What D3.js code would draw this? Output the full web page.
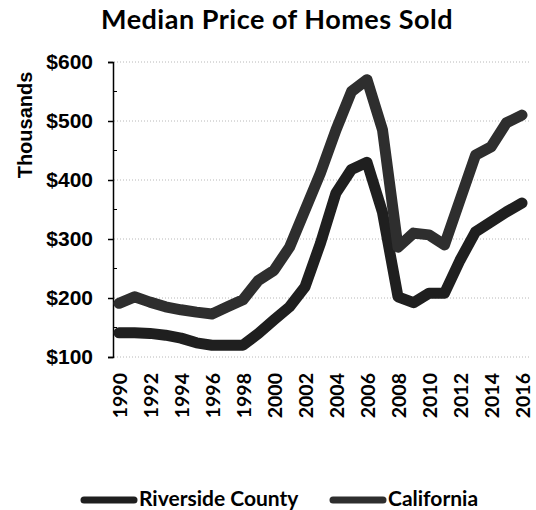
<!DOCTYPE html>
<html>
<head>
<meta charset="utf-8">
<script src="https://cdn.jsdelivr.net/npm/d3@7"></script>
<style>
  body { margin: 0; background: #fff; }
</style>
</head>
<body>
<div id="chart"></div>
<script>
const years = d3.range(1990, 2017);
const riverside = [141, 141, 140, 137, 132, 124, 120, 120, 120, 140, 163, 185, 219, 293, 378, 418, 430, 345, 202, 192, 208, 208, 264, 312, 329, 346, 361];
const california = [191, 202, 193, 185, 180, 176, 173, 185, 197, 230, 247, 286, 349, 412, 485, 550, 570, 485, 286, 310, 307, 290, 366, 442, 456, 497, 510];
const yTicks = [100, 200, 300, 400, 500, 600];
const xTicks = d3.range(1990, 2017, 2);

const series = [
  {name: "Riverside County", values: riverside, color: "#1f1f1f"},
  {name: "California", values: california, color: "#2e2e2e"}
];

const width = 536, height = 510;
const svg = d3.select("#chart").append("svg")
  .attr("width", width)
  .attr("height", height);

const x = d3.scaleLinear().domain([1990, 2016]).range([119, 522]);
const y = d3.scaleLinear().domain([100, 600]).range([357, 62]);

// title
svg.append("text")
  .attr("x", 277)
  .attr("y", 29)
  .attr("text-anchor", "middle")
  .style("font-family", "Lato")
  .style("font-weight", "bold")
  .style("font-size", "27px")
  .style("letter-spacing", "0.5px")
  .text("Median Price of Homes Sold");

// dotted gridlines
svg.append("g")
  .selectAll("line")
  .data(yTicks)
  .join("line")
  .attr("x1", 114)
  .attr("x2", 530)
  .attr("y1", d => y(d))
  .attr("y2", d => y(d))
  .attr("stroke", "#b8b8b8")
  .attr("stroke-width", 1)
  .attr("stroke-dasharray", "1,2");

// y axis
const yAxis = svg.append("g")
  .attr("transform", "translate(113,0)")
  .call(d3.axisLeft(y).tickValues(yTicks).tickSize(5).tickFormat(d => "$" + d));
yAxis.select(".domain").attr("stroke", "#000").attr("stroke-width", 1.5);
yAxis.selectAll(".tick line").attr("stroke", "#000").attr("stroke-width", 1.5);
yAxis.selectAll("text")
  .attr("x", -20)
  .style("font-family", "Liberation Sans")
  .style("font-weight", "bold")
  .style("font-size", "21px")
  .attr("fill", "#000");

// minor ticks
svg.append("g")
  .selectAll("line")
  .data(d3.range(150, 600, 100))
  .join("line")
  .attr("x1", 113)
  .attr("x2", 117)
  .attr("y1", d => y(d))
  .attr("y2", d => y(d))
  .attr("stroke", "#000")
  .attr("stroke-width", 1);

// y title
svg.append("text")
  .attr("transform", "translate(32,125) rotate(-90)")
  .attr("text-anchor", "middle")
  .style("font-family", "Liberation Sans")
  .style("font-weight", "bold")
  .style("font-size", "20px")
  .text("Thousands");

// x labels
svg.append("g")
  .selectAll("text")
  .data(xTicks)
  .join("text")
  .attr("transform", d => `translate(${x(d) + 8},${373}) rotate(-90)`)
  .attr("text-anchor", "end")
  .style("font-family", "Lato")
  .style("font-weight", "bold")
  .style("font-size", "19.5px")
  .text(d => d);

// lines
const line = d3.line()
  .x((d, i) => x(years[i]))
  .y(d => y(d));

svg.append("g")
  .selectAll("path")
  .data(series)
  .join("path")
  .attr("d", d => line(d.values))
  .attr("fill", "none")
  .attr("stroke", d => d.color)
  .attr("stroke-width", 11)
  .attr("stroke-linejoin", "round")
  .attr("stroke-linecap", "round");

// legend
const legendX = [80, 329];
const legend = svg.append("g")
  .selectAll("g")
  .data(series)
  .join("g")
  .attr("transform", (d, i) => `translate(${legendX[i]},500)`);

legend.append("line")
  .attr("x1", 4)
  .attr("x2", 54)
  .attr("stroke", d => d.color)
  .attr("stroke-width", 7)
  .attr("stroke-linecap", "round");

legend.append("text")
  .attr("x", 59)
  .attr("y", 6)
  .style("font-family", "Lato")
  .style("font-weight", "bold")
  .style("font-size", "21px")
  .text(d => d.name);
</script>
</body>
</html>
